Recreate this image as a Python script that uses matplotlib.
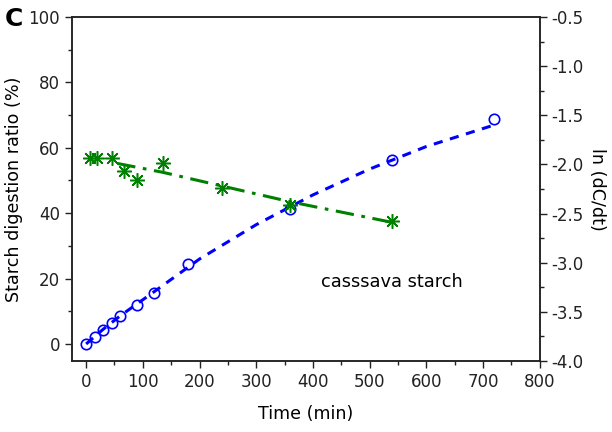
import numpy as np
import matplotlib
matplotlib.use('Agg')
import matplotlib.pyplot as plt
from matplotlib.ticker import MultipleLocator, FormatStrFormatter

plt.rcParams['font.family'] = ['DejaVu Sans']
plt.rcParams['axes.unicode_minus'] = False

# starch digestion ratio (%) vs time
t_ratio = [0, 15, 30, 45, 60, 90, 120, 180, 360, 540, 720]
ratio = [0, 2.0, 4.2, 6.3, 8.5, 12.0, 15.6, 24.4, 41.3, 56.3, 68.7]
t_ratio_fit = [0, 30, 60, 120, 200, 300, 400, 500, 600, 720]
ratio_fit = [0, 4.5, 8.6, 16.0, 26.0, 36.5, 45.6, 53.5, 60.4, 67.0]

# ln(dC/dt) vs time
t_ln = [6, 20, 45, 66, 90, 135, 240, 360, 540]
ln_rate = [-1.93, -1.93, -1.93, -2.07, -2.16, -1.99, -2.24, -2.41, -2.58]
t_ln_fit = [55, 135, 240, 360, 540]
ln_fit = [-1.99, -2.08, -2.22, -2.38, -2.59]

blue = '#0000ff'
green = '#008000'

fig = plt.figure(figsize=(6.12, 4.32), dpi=100)
ax = fig.add_axes([0.1176, 0.1644, 0.7644, 0.7962])
ax2 = ax.twinx()

ax.plot(t_ratio_fit, ratio_fit, linestyle=(0, (3, 2.5)), color=blue, lw=2.2)
ax.plot(t_ratio, ratio, 'o', mfc='none', mec=blue, mew=1.2, ms=7.5)

ax2.plot(t_ln_fit, ln_fit, linestyle=(0, (6, 2.5, 1.2, 2.5)), color=green, lw=2.2)
ax2.plot(t_ln, ln_rate, linestyle='none', marker=(8, 2, 0), color=green, mew=1.1, ms=10.5)

ax.set_xlim(-25, 800)
ax.set_ylim(-5.2, 100)
ax2.set_ylim(-4.0, -0.5)

ax.xaxis.set_major_locator(MultipleLocator(100))
ax.xaxis.set_minor_locator(MultipleLocator(50))
ax.yaxis.set_major_locator(MultipleLocator(20))
ax.yaxis.set_minor_locator(MultipleLocator(10))
ax2.yaxis.set_major_locator(MultipleLocator(0.5))
ax2.yaxis.set_minor_locator(MultipleLocator(0.25))
ax2.yaxis.set_major_formatter(FormatStrFormatter('%.1f'))

for a in (ax, ax2):
    a.tick_params(which='major', direction='out', length=5, width=1, labelsize=12, colors='#222222')
    a.tick_params(which='minor', direction='out', length=3, width=1, colors='#222222')
    for s in a.spines.values():
        s.set_linewidth(1.1)
        s.set_color('#222222')
ax.tick_params(axis='x', which='both', top=False)

ax.set_xlabel('Time (min)', fontsize=12.6, labelpad=10)
ax.set_ylabel('Starch digestion ratio (%)', fontsize=12.6, labelpad=4)
ax2.set_ylabel('ln (dC/dt)', fontsize=12.6, rotation=270, labelpad=16)

ax.text(540, 19, 'casssava starch', fontsize=12.8, ha='center', va='center')
fig.text(0.008, 0.955, 'C', fontsize=18, fontweight='semibold', va='center')

fig.savefig('out.png', dpi=100)
